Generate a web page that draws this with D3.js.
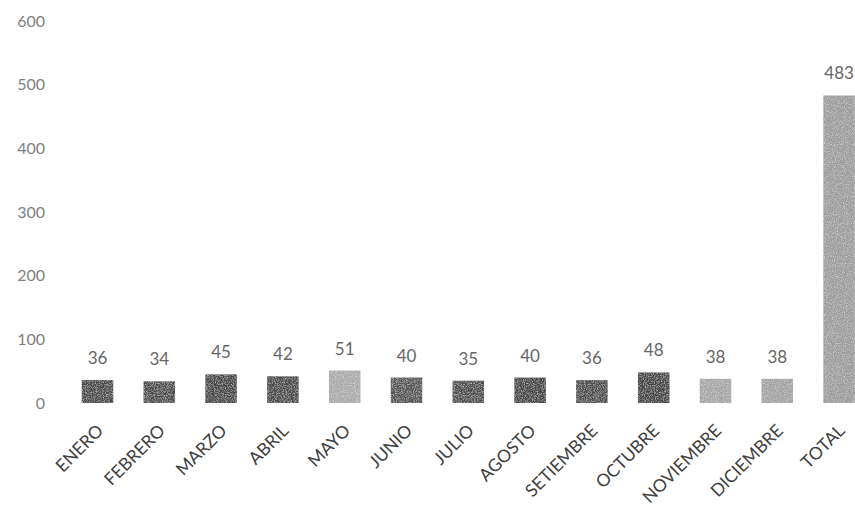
<!DOCTYPE html>
<html>
<head>
<meta charset="utf-8">
<script src="https://cdn.jsdelivr.net/npm/d3@7/dist/d3.min.js"></script>
<style>
  html, body { margin: 0; padding: 0; background: #ffffff; }
  svg { display: block; }
</style>
</head>
<body>
<svg id="chart" width="855" height="510"></svg>
<script>
// Monthly counts plus the yearly total
const categories = ["ENERO", "FEBRERO", "MARZO", "ABRIL", "MAYO", "JUNIO", "JULIO",
  "AGOSTO", "SETIEMBRE", "OCTUBRE", "NOVIEMBRE", "DICIEMBRE", "TOTAL"];
const values = [36, 34, 45, 42, 51, 40, 35, 40, 36, 48, 38, 38, 483];
const barShades = ["#4a4a4a", "#4e4e4e", "#474747", "#4c4c4c", "#aaaaaa", "#555555", "#505050",
  "#444444", "#4d4d4d", "#454545", "#a6a6a6", "#a3a3a3", "#9c9c9c"];
const yTicks = [0, 100, 200, 300, 400, 500, 600];

const svg = d3.select("#chart");
const font = "Lato, 'Open Sans', sans-serif";

// grainy print texture for the bars
const defs = svg.append("defs");
const grain = defs.append("filter").attr("id", "grain")
  .attr("x", 0).attr("y", 0).attr("width", 1).attr("height", 1);
grain.append("feTurbulence").attr("type", "fractalNoise")
  .attr("baseFrequency", 0.9).attr("numOctaves", 2).attr("seed", 7).attr("result", "noise");
grain.append("feColorMatrix").attr("in", "noise").attr("type", "matrix")
  .attr("values", "0 0 0 0 1  0 0 0 0 1  0 0 0 0 1  0 0 0 -2.2 1.25").attr("result", "specks");
grain.append("feComposite").attr("in", "specks").attr("in2", "SourceGraphic")
  .attr("operator", "in").attr("result", "speckIn");
grain.append("feComponentTransfer").attr("in", "speckIn").attr("result", "speckSoft")
  .append("feFuncA").attr("type", "linear").attr("slope", 0.45);
const merge = grain.append("feMerge");
merge.append("feMergeNode").attr("in", "SourceGraphic");
merge.append("feMergeNode").attr("in", "speckSoft");

const step = 61.8;
const x0 = 97.5 - step / 2;
const x = d3.scaleBand()
  .domain(categories)
  .range([x0, x0 + step * categories.length])
  .paddingInner(0.49)
  .paddingOuter(0.245);

const y = d3.scaleLinear().domain([0, 600]).range([403, 21]);

// value axis: labels only
const yAxis = svg.append("g")
  .attr("transform", "translate(45,0)")
  .call(d3.axisLeft(y).tickValues(yTicks).tickSize(0).tickPadding(0));
yAxis.select(".domain").remove();
yAxis.selectAll("text")
  .attr("font-family", font)
  .attr("font-size", 16)
  .attr("fill", "#7f7f7f");

// bars
svg.append("g").selectAll("rect")
  .data(values)
  .join("rect")
  .attr("x", (d, i) => x(categories[i]))
  .attr("width", x.bandwidth())
  .attr("y", d => y(d))
  .attr("height", d => y(0) - y(d))
  .attr("fill", (d, i) => barShades[i])
  .attr("filter", "url(#grain)");

// value labels
svg.append("g").selectAll("text")
  .data(values)
  .join("text")
  .attr("x", (d, i) => x(categories[i]) + x.bandwidth() / 2)
  .attr("y", d => y(d) - 16)
  .attr("text-anchor", "middle")
  .attr("font-family", font)
  .attr("font-size", 17)
  .attr("fill", "#666666")
  .text(d => d);

// category axis, labels rotated
const xAxis = svg.append("g")
  .attr("transform", "translate(0,425)")
  .call(d3.axisBottom(x).tickSize(0).tickPadding(0));
xAxis.select(".domain").remove();
xAxis.selectAll("text")
  .attr("font-family", font)
  .attr("font-size", 17.5)
  .attr("fill", "#404040")
  .attr("text-anchor", "end")
  .attr("dy", "0.55em")
  .attr("dx", "0")
  .attr("transform", "rotate(-45)");
</script>
</body>
</html>
